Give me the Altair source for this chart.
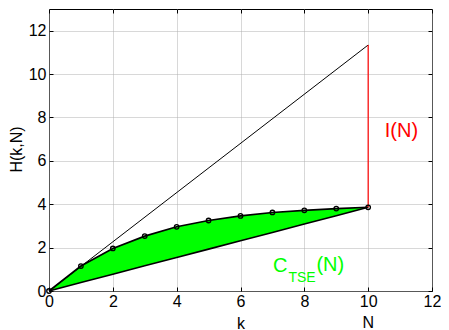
import altair as alt
import pandas as pd

# ---- data ----
k = [0, 1, 2, 3, 4, 5, 6, 7, 8, 9, 10]
h_upper = [0, 1.15, 1.96, 2.53, 2.96, 3.25, 3.46, 3.62, 3.72, 3.80, 3.86]
h_lower = [0, 0.39, 0.77, 1.16, 1.54, 1.93, 2.32, 2.70, 3.09, 3.47, 3.86]
diag_k = [0, 10]
diag_h = [0, 11.34]
info_k = [10]
info_lo = [3.86]
info_hi = [11.34]
x_ticks = [0, 2, 4, 6, 8, 10, 12]
y_ticks = [0, 2, 4, 6, 8, 10, 12]

# annotation anchors (data coordinates)
lbl_I = {"x": [10.52], "y": [7.08], "t": ["I(N)"]}
lbl_C = {"x": [7.02], "y": [0.87], "t": ["C"]}
lbl_TSE = {"x": [7.50], "y": [0.43], "t": ["TSE"]}
lbl_N2 = {"x": [8.38], "y": [0.90], "t": ["(N)"]}
lbl_Nx = {"x": [10.0], "y": [-1.70], "t": ["N"]}

FONT = "Liberation Sans"
curve = pd.DataFrame({"k": k, "upper": h_upper, "lower": h_lower})
diag = pd.DataFrame({"k": diag_k, "h": diag_h})
info = pd.DataFrame({"k": info_k, "lo": info_lo, "hi": info_hi})

xs = alt.Scale(domain=[0, 12], nice=False, zero=False)
ys = alt.Scale(domain=[0, 13], nice=False, zero=False)

W, H = 383, 282

main_x = alt.Axis(values=x_ticks, title="k", grid=True, ticks=False, domain=False,
                  gridColor="#b0b0b0", gridDash=[1, 1], gridWidth=1,
                  labelFont=FONT, labelFontSize=16, labelColor="black",
                  labelPadding=2, labelFlush=False, labelOverlap=False,
                  titleFont=FONT, titleFontSize=16, titleFontWeight="normal",
                  titleColor="black", titleX=W / 2, titleY=37,
                  titleBaseline="alphabetic", titleAlign="center",
                  format="d", orient="bottom")
main_y = alt.Axis(values=y_ticks, title="H(k,N)", grid=True, ticks=False, domain=False,
                  gridColor="#b0b0b0", gridDash=[1, 1], gridWidth=1,
                  labelFont=FONT, labelFontSize=16, labelColor="black",
                  labelPadding=3, labelFlush=False, labelOverlap=False,
                  titleFont=FONT, titleFontSize=16, titleFontWeight="normal",
                  titleColor="black", titleAngle=270, titleX=-33, titleY=140,
                  titleBaseline="middle", titleAlign="center",
                  format="d", orient="left")


def tick_axis(orient, vals):
    return alt.Axis(values=vals, orient=orient, offset=-4, tickSize=4, ticks=True,
                    tickColor="black", tickWidth=1, labels=False, domain=False,
                    grid=False, title=None)


area = alt.Chart(curve).mark_area(color="#00ff00", opacity=1).encode(
    x=alt.X("k:Q", scale=xs, axis=main_x),
    y=alt.Y("upper:Q", scale=ys, axis=main_y),
    y2="lower:Q",
)

upper_line = alt.Chart(curve).mark_line(color="black", strokeWidth=1.7).encode(
    x=alt.X("k:Q", scale=xs, axis=tick_axis("bottom", x_ticks)),
    y=alt.Y("upper:Q", scale=ys, axis=tick_axis("left", y_ticks)),
)
lower_line = alt.Chart(curve).mark_line(color="black", strokeWidth=1.6).encode(
    x=alt.X("k:Q", scale=xs, axis=tick_axis("top", x_ticks)),
    y=alt.Y("lower:Q", scale=ys, axis=tick_axis("right", y_ticks)),
)
markers = alt.Chart(curve).mark_point(shape="circle", filled=False, color="black",
                                       size=20, strokeWidth=1.3, opacity=1).encode(
    x=alt.X("k:Q", scale=xs, axis=None),
    y=alt.Y("upper:Q", scale=ys, axis=None),
)
diag_line = alt.Chart(diag).mark_line(color="black", strokeWidth=1).encode(
    x=alt.X("k:Q", scale=xs, axis=None),
    y=alt.Y("h:Q", scale=ys, axis=None),
)
info_rule = alt.Chart(info).mark_rule(color="#ff0000", strokeWidth=1.2).encode(
    x=alt.X("k:Q", scale=xs, axis=None),
    y=alt.Y("lo:Q", scale=ys, axis=None),
    y2="hi:Q",
)


def label(d, color, size, align="left"):
    return alt.Chart(pd.DataFrame(d)).mark_text(
        font=FONT, fontSize=size, color=color, align=align, baseline="alphabetic"
    ).encode(
        x=alt.X("x:Q", scale=xs, axis=None),
        y=alt.Y("y:Q", scale=ys, axis=None),
        text="t:N",
    )


texts = [
    label(lbl_I, "#ff0000", 20),
    label(lbl_C, "#00ff00", 20),
    label(lbl_TSE, "#00ff00", 14),
    label(lbl_N2, "#00ff00", 20),
    label(lbl_Nx, "black", 16, align="center"),
]

chart = alt.layer(
    area, upper_line, lower_line, diag_line, info_rule, markers, *texts
).resolve_axis(x="independent", y="independent").properties(
    width=W, height=H,
    autosize=alt.AutoSizeParams(type="none"),
    padding={"left": 41, "top": 1, "right": 9, "bottom": 39},
    background="white",
).configure_view(stroke="black", strokeWidth=1)

chart.save("out.html", embed_options={"renderer": "svg", "actions": False})
